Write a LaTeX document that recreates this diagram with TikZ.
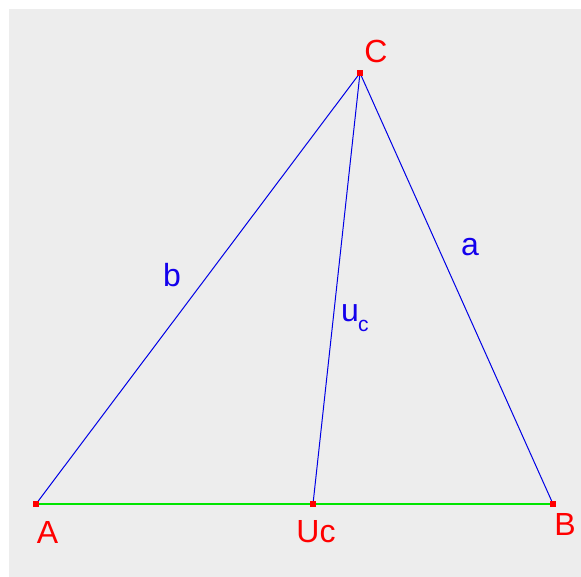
\documentclass[tikz,border=0pt]{standalone}
\usepackage{fontspec}
\setmainfont{Liberation Sans}
\begin{document}
\begin{tikzpicture}[x=1pt,y=1pt,
  side/.style={draw=blue!90!black,line width=1pt},
  base/.style={draw=green!90!black,line width=1.2pt},
  pt/.style={fill=red,draw=none,minimum size=6pt,inner sep=0pt,rectangle},
  ptlabel/.style={text=red,font=\fontsize{32}{32}\selectfont,inner sep=0pt},
  sidelabel/.style={text=blue!85!violet,font=\fontsize{32}{32}\selectfont,inner sep=0pt}]
\useasboundingbox (0,0) rectangle (581,577);
\fill[white] (0,0) rectangle (581,577);
\fill[black!7] (9,0) rectangle (581,568);
% points
\coordinate (A) at (36,73);
\coordinate (B) at (553,73);
\coordinate (C) at (360,504);
\coordinate (U) at (313,73);
\draw[base] (A) -- (B);
\draw[side] (A) -- (C);
\draw[side] (B) -- (C);
\draw[side] (U) -- (C);
\node[pt] (pA) at (A) {};
\node[pt] (pB) at (B) {};
\node[pt] (pC) at (C) {};
\node[pt] (pU) at (U) {};
% labels
\node[ptlabel] (lC) at (376,526) {C};
\node[ptlabel] (lA) at (47.5,45) {A};
\node[ptlabel] (lB) at (565,53) {B};
\node[ptlabel] (lU) at (316,45) {Uc};
\node[sidelabel] (lb) at (172,302) {b};
\node[sidelabel] (la) at (470,330) {a};
\node[sidelabel,anchor=base west] (lu) at (341,255.5) {u};
\node[sidelabel,anchor=base west,font=\fontsize{21}{21}\selectfont] (lc) at (358,245.5) {c};
\end{tikzpicture}
\end{document}
